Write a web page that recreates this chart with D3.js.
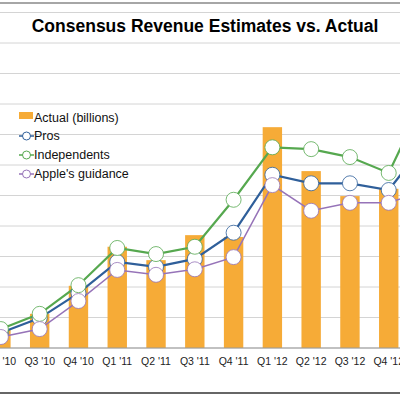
<!DOCTYPE html>
<html><head><meta charset="utf-8">
<script src="https://cdn.jsdelivr.net/npm/d3@7"></script>
<style>body{margin:0;background:#fff}svg{display:block}</style>
</head><body>
<svg id="c" width="400" height="400"></svg>
<script>
const categories=["Q2 '10","Q3 '10","Q4 '10","Q1 '11","Q2 '11","Q3 '11","Q4 '11","Q1 '12","Q2 '12","Q3 '12","Q4 '12","Q1 '13"];
const actual=[13.0,15.6,20.2,26.6,24.4,28.5,28.2,46.2,39.0,34.9,36.1,48.0];
const pros=[12.5,14.9,19.0,24.1,23.3,24.6,28.9,38.4,37.0,37.0,35.9,44.0];
const independents=[13.1,15.6,20.3,26.4,25.4,26.6,34.3,42.9,42.6,41.3,38.7,52.0];
const guidance=[11.8,13.1,17.7,22.8,22.0,22.9,24.9,36.7,32.5,33.8,33.8,36.0];
const yTicks=[10,15,20,25,30,35,40,45,50,55,60,65];

const svg=d3.select("#c");
const x=d3.scaleBand().domain(categories).range([-28.2,456.6]).padding(0.5);
const y=d3.scaleLinear().domain([10,65]).range([348,12.5]);
const cx=d=>x(d)+x.bandwidth()/2;

svg.append("g").selectAll("line").data(yTicks).join("line")
 .attr("x1",0).attr("x2",400).attr("y1",d=>y(d)).attr("y2",d=>y(d))
 .attr("stroke","#d4d4d4").attr("stroke-width",1);
svg.append("line").attr("x1",0).attr("x2",400).attr("y1",3).attr("y2",3).attr("stroke","#888").attr("stroke-width",1.5);

svg.append("g").selectAll("rect").data(categories).join("rect")
 .attr("x",d=>x(d)).attr("width",x.bandwidth())
 .attr("y",(d,i)=>y(actual[i])).attr("height",(d,i)=>y(10)-y(actual[i]))
 .attr("fill","#f6ab37");

svg.append("line").attr("x1",0).attr("x2",400).attr("y1",y(10)).attr("y2",y(10)).attr("stroke","#999");

const series=[[pros,"#2f5f9a",2.2],[independents,"#56a84f",2.2],[guidance,"#9673b8",1.5]];
series.forEach(([vals,col,w])=>{
  const line=d3.line().x((d,i)=>cx(categories[i])).y(d=>y(d));
  svg.append("path").datum(vals).attr("d",line).attr("fill","none").attr("stroke",col).attr("stroke-width",w);
});
series.forEach(([vals,col])=>{
  svg.append("g").selectAll("circle").data(vals).join("circle")
   .attr("cx",(d,i)=>cx(categories[i])).attr("cy",d=>y(d)).attr("r",7.5)
   .attr("fill","#fff").attr("stroke",col).attr("stroke-width",0.8);
});

const xa=svg.append("g").attr("transform","translate(0,348)").call(d3.axisBottom(x).tickSize(0).tickPadding(10));
xa.select(".domain").remove();
xa.selectAll("text").attr("font-family","Liberation Sans, Arial").attr("font-size",10.5).attr("fill","#222");

svg.append("text").attr("x",205).attr("y",32).attr("text-anchor","middle")
 .attr("font-family","Liberation Sans, Arial").attr("font-weight","bold").attr("font-size",17.5).text("Consensus Revenue Estimates vs. Actual");

const lg=svg.append("g").attr("font-family","Liberation Sans, Arial").attr("font-size",12.5).attr("fill","#111");
lg.append("rect").attr("x",19).attr("y",112).attr("width",14).attr("height",7).attr("fill","#f6ab37");
lg.append("text").attr("x",34).attr("y",122).text("Actual (billions)");
[["Pros","#2f5f9a"],["Independents","#56a84f"],["Apple's guidance","#9673b8"]].forEach(([t,c],i)=>{
  const yy=136+i*19;
  lg.append("line").attr("x1",19).attr("x2",34).attr("y1",yy).attr("y2",yy).attr("stroke",c).attr("stroke-width",1.5);
  lg.append("circle").attr("cx",26.5).attr("cy",yy).attr("r",4).attr("fill","#fff").attr("stroke",c);
  lg.append("text").attr("x",34).attr("y",yy+4).text(t);
});
svg.append("line").attr("x1",0).attr("x2",400).attr("y1",393).attr("y2",393).attr("stroke","#666").attr("stroke-width",2);
</script>
</body></html>
